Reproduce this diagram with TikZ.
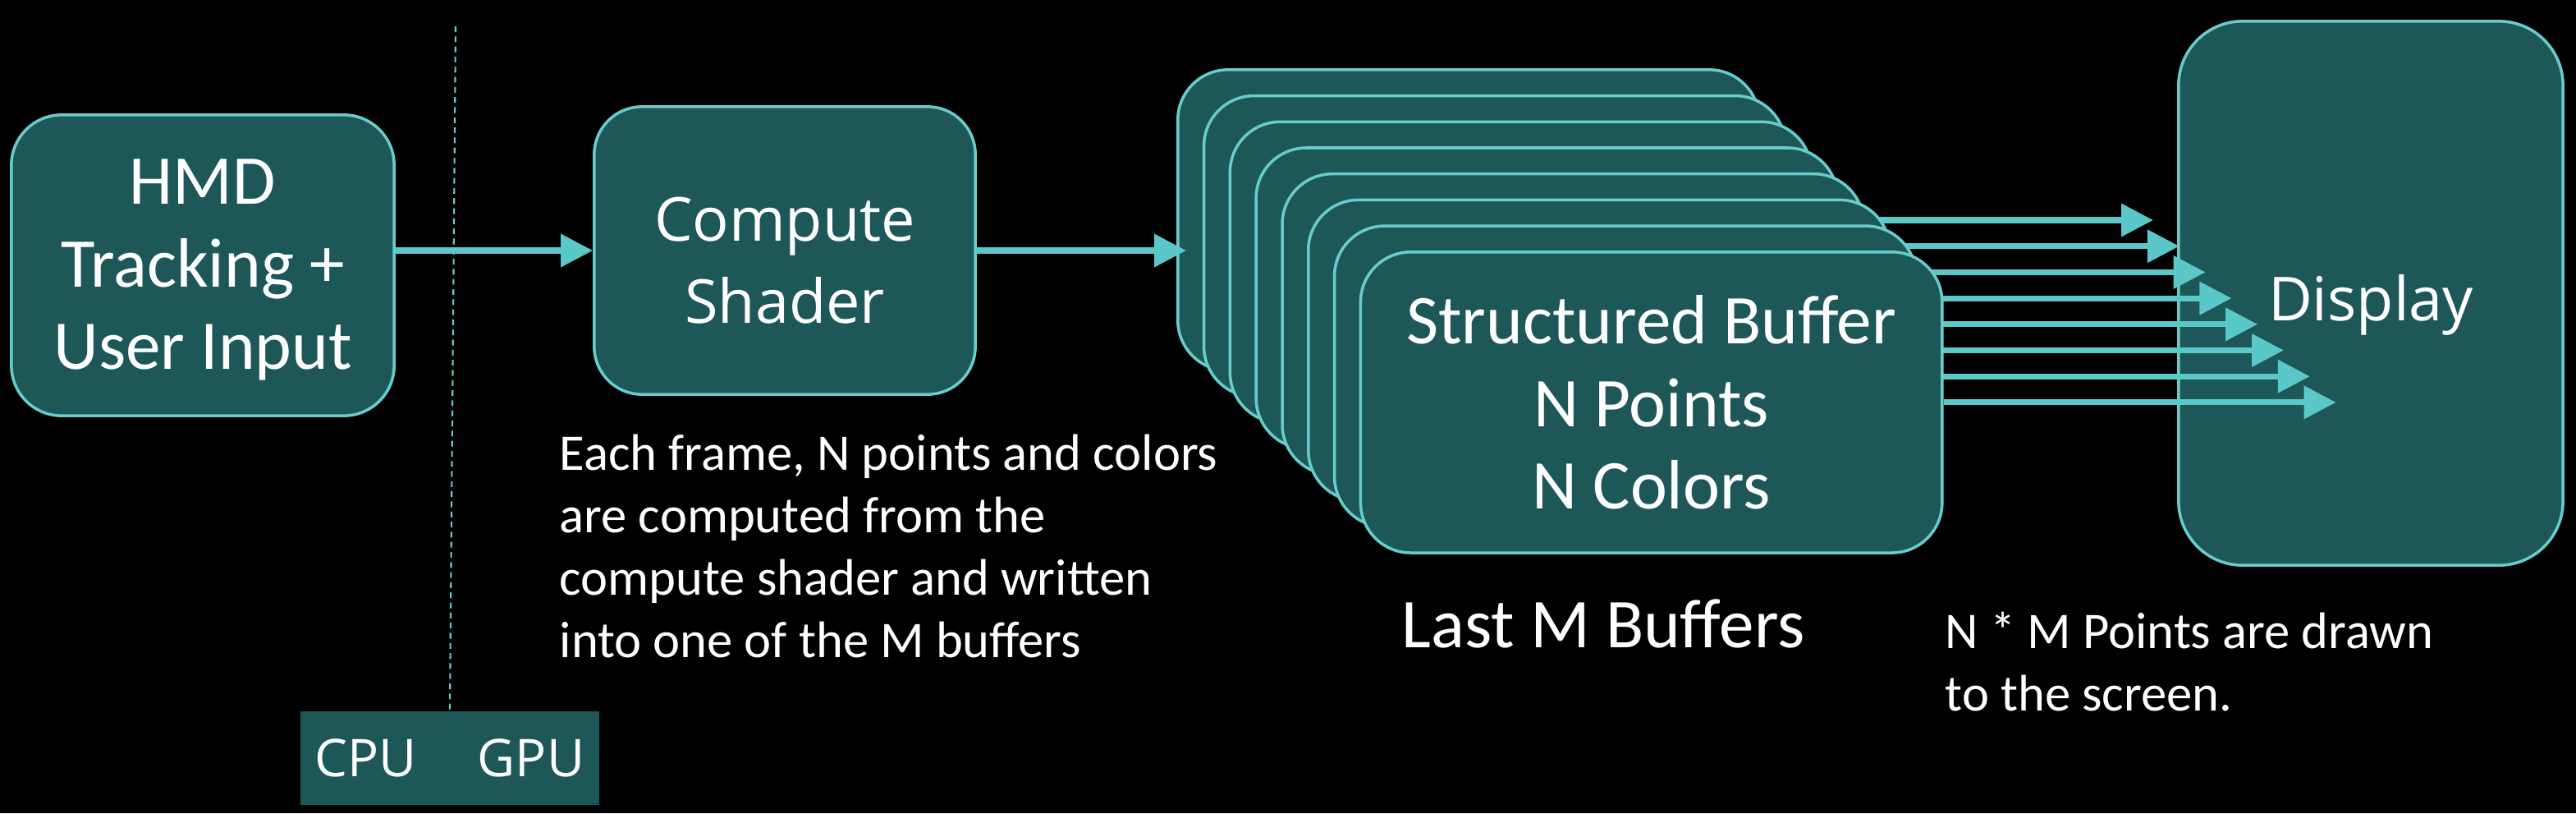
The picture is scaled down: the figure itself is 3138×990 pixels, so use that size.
\documentclass[tikz,border=0pt]{standalone}
\usepackage{fontspec}
\setmainfont{Carlito}
\newfontfamily\segoefont{Open Sans}
\usetikzlibrary{arrows.meta,calc}
\definecolor{boxfill}{RGB}{29,87,88}
\definecolor{boxline}{RGB}{104,204,204}
\definecolor{arrowcol}{RGB}{90,200,200}
\newcommand\fsBig{\fontsize{24.2pt}{28.5pt}\selectfont}
\newcommand\fsSeg{\segoefont\fontsize{21pt}{28.5pt}\selectfont}
\newcommand\fsSmall{\fontsize{17.8pt}{21.6pt}\selectfont}
\tikzset{
  blk/.style={draw=boxline, line width=1pt, fill=boxfill, text=white, align=center, inner sep=0pt},
  flow/.style={draw=arrowcol, line width=2pt, -{Triangle[length=0.39cm,width=0.39cm]}},
  note/.style={text=white, align=left, inner sep=0pt, font=\fsSmall},
}
\begin{document}
\begin{tikzpicture}[x=0.01cm, y=-0.01cm]
\fill[black] (0,0) rectangle (3138,990);
\useasboundingbox (0,0) rectangle (3138,990);

% CPU/GPU divider
\coordinate (dtop) at (555,32);
\node[fill=boxfill, text=white, minimum width=3.64cm, minimum height=1.14cm, inner sep=0pt,
      font={\segoefont\fontsize{18pt}{20pt}\selectfont}] (cpugpu) at (548,923) {CPU\hspace{0.74cm}GPU};
\draw[boxline, line width=0.6pt, dash pattern=on 2pt off 1.5pt] (dtop) -- (cpugpu.north);

% main boxes
\node[blk, minimum width=4.66cm, minimum height=3.66cm, rounded corners=0.61cm, font=\fsBig]
  (hmd) at (247,323) {\rule{0pt}{0.66cm}HMD\\Tracking +\\User Input};
\node[blk, minimum width=4.64cm, minimum height=3.50cm, rounded corners=0.58cm, font=\fsSeg]
  (cs) at (956,305) {\rule{0pt}{0.78cm}Compute\\Shader};
\node[blk, minimum width=4.68cm, minimum height=6.62cm, rounded corners=0.78cm, font=\fsSeg]
  (disp) at (2888,357) {\rule{0pt}{0.84cm}Display};

\draw[flow] (hmd.east |- cs.west) -- (cs.west);

% stacked buffers with their arrows
\foreach \k in {0,...,6}{
  \node[blk, minimum width=7.08cm, minimum height=3.66cm, rounded corners=0.61cm]
    (b\k) at ({1789+31.8*\k},{268+31.7*\k}) {};
  \coordinate (t\k) at ({2623+31.8*\k},{268+31.7*\k});
  \draw[flow] (b\k.east) -- (t\k);
}
\node[blk, minimum width=7.08cm, minimum height=3.66cm, rounded corners=0.61cm, font=\fsBig]
  (b7) at ({1789+31.8*7},{268+31.7*7}) {Structured Buffer\\N Points\\N Colors};
\coordinate (t7) at ({2623+31.8*7},{268+31.7*7});
\draw[flow] (b7.east) -- (t7);

\draw[flow, shorten >=-0.12cm] (cs.east) -- (b0.west |- cs.east);

% labels
\node[text=white, inner sep=0pt, anchor=base, font={\fontsize{24.2pt}{28pt}\selectfont}]
  (lastm) at (1953,788) {Last M Buffers};
\node[note, anchor=base west] (each) at (681,800)
  {Each frame, N points and colors\\are computed from the\\compute shader and written\\into one of the M buffers};
\node[note, anchor=base west] (nm) at (2369,865)
  {N * M Points are drawn\\to the screen.};
\end{tikzpicture}
\end{document}
